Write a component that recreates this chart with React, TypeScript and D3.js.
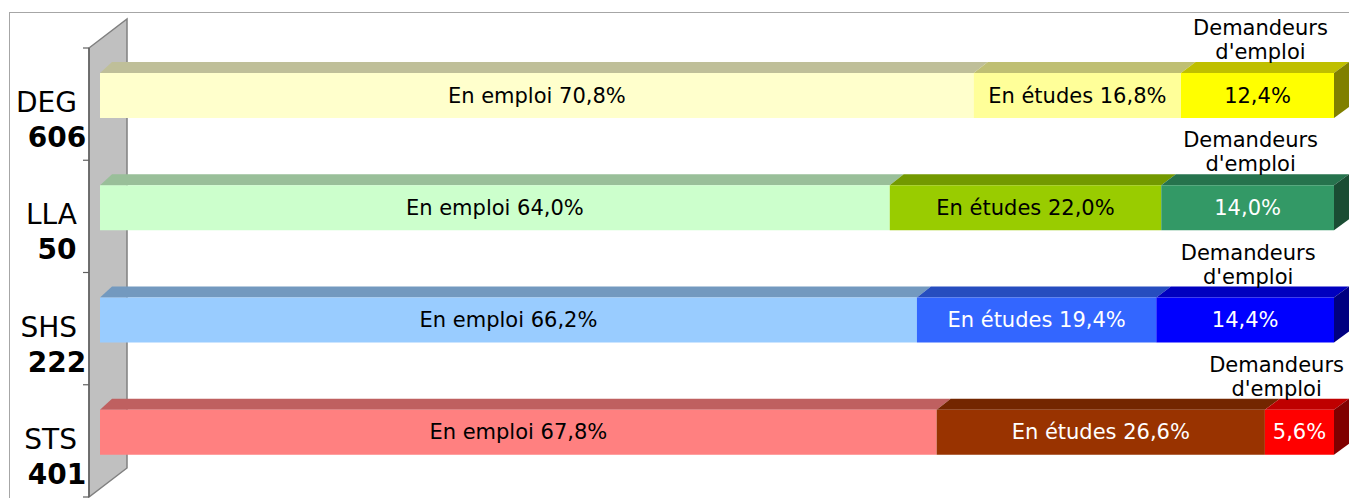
import * as d3 from 'd3';

// Chart data
const categories = ['DEG', 'LLA', 'SHS', 'STS'];
const effectifs = [606, 50, 222, 401];
const enEmploi = [70.8, 64.0, 66.2, 67.8];
const enEtudes = [16.8, 22.0, 19.4, 26.6];
const demandeurs = [12.4, 14.0, 14.4, 5.6];
const seriesNames = ['En emploi', 'En études', 'Demandeurs d\'emploi'];

// Front face colours per category, per series
const fills = [
  ['#ffffcc', '#ffff99', '#ffff00'],
  ['#ccffcc', '#99cc00', '#339966'],
  ['#99ccff', '#3366ff', '#0000ff'],
  ['#ff8080', '#993300', '#ff0000'],
];
const textColors = [
  ['#000', '#000', '#000'],
  ['#000', '#000', '#fff'],
  ['#000', '#fff', '#fff'],
  ['#000', '#fff', '#fff'],
];

const W = 1349;
const H = 498;
const font = 'DejaVu Sans, sans-serif';
const labelSize = 21;
const axisSize = 28;

const shade = (c: string, k: number) => {
  const rgb = d3.rgb(c);
  return d3.rgb(rgb.r * k, rgb.g * k, rgb.b * k).formatHex();
};

const fmt = (v: number) => d3.format('.1f')(v).replace('.', ',') + '%';

let ctx: CanvasRenderingContext2D | null = null;
const textWidth = (t: string, size: number) => {
  if (!ctx) ctx = document.createElement('canvas').getContext('2d');
  if (!ctx) return t.length * size * 0.6;
  ctx.font = `${size}px ${font}`;
  return ctx.measureText(t).width;
};

export default function App() {
  // Scales
  const x = d3.scaleLinear().domain([0, 100]).range([100, 1334]);
  const y = d3.scaleBand().domain(categories).range([48, 497]);

  const barOffset = 25;
  const barHeight = 45;
  const depthY = 11;
  const depthX = (px: number) => 12 + (3 * (px - 100)) / 1234;

  // Axis wall
  const wallFront = 89;
  const wallBack = 127;
  const wall = [
    [wallFront, 48], [wallBack, 19], [wallBack, 468], [wallFront, 497],
  ].map(p => p.join(',')).join(' ');

  const ticks = [...categories.map(c => y(c) ?? 0), 497];

  return (
    <div style={{ position: 'absolute', left: 0, top: 0 }}>
      <svg width={W} height={H} style={{ display: 'block', fontFamily: font }}>
        <rect x={0} y={0} width={W} height={H} fill="#fff" />
        <rect x={9.5} y={12.5} width={W} height={H} fill="none" stroke="#a6a6a6" />

        {/* Category wall */}
        <polygon points={wall} fill="#c0c0c0" stroke="#808080" strokeWidth={1.5} />
        <line x1={wallFront} x2={wallFront} y1={48} y2={497} stroke="#606060" strokeWidth={1.5} />
        {ticks.map((t, i) => (
          <line key={i} x1={wallFront - 6} x2={wallFront} y1={t} y2={t} stroke="#606060" strokeWidth={1.2} />
        ))}

        {categories.map((cat, i) => {
          const band = y(cat) ?? 0;
          const center = band + y.bandwidth() / 2;
          const top = band + barOffset;
          const values = [enEmploi[i], enEtudes[i], demandeurs[i]];
          let acc = 0;
          const segs = values.map((v, j) => {
            const s = { j, v, x0: x(acc), x1: x(acc + v) };
            acc += v;
            return s;
          });
          const last = segs[segs.length - 1];

          // Label for the "Demandeurs d'emploi" segment, kept inside the frame
          const lw = textWidth('Demandeurs', labelSize);
          let lx = (last.x0 + last.x1) / 2 + 3;
          if (lx + lw / 2 > 1344) lx = 1344 - lw / 2;

          return (
            <g key={cat}>
              <text x={77} y={center + 8} textAnchor="end" fontSize={axisSize}>{cat}</text>
              <text x={57} y={center + 43} textAnchor="middle" fontSize={axisSize} fontWeight="bold">
                {effectifs[i]}
              </text>

              {segs.map(s => {
                const d0 = depthX(s.x0);
                const d1 = depthX(s.x1);
                const topFace = [
                  [s.x0, top], [s.x1, top], [s.x1 + d1, top - depthY], [s.x0 + d0, top - depthY],
                ].map(p => p.join(',')).join(' ');
                return (
                  <g key={s.j}>
                    <polygon points={topFace} fill={shade(fills[i][s.j], 0.75)} />
                    <rect x={s.x0} y={top} width={s.x1 - s.x0} height={barHeight} fill={fills[i][s.j]} />
                  </g>
                );
              })}

              <polygon
                points={[
                  [last.x1, top], [last.x1 + depthX(last.x1), top - depthY],
                  [last.x1 + depthX(last.x1), top - depthY + barHeight], [last.x1, top + barHeight],
                ].map(p => p.join(',')).join(' ')}
                fill={shade(fills[i][2], 0.5)}
              />

              {segs.map(s => (
                <text
                  key={'t' + s.j}
                  x={(s.x0 + s.x1) / 2}
                  y={top + barHeight / 2 + 7}
                  textAnchor="middle"
                  fontSize={labelSize}
                  fill={textColors[i][s.j]}
                >
                  {s.j < 2 ? `${seriesNames[s.j]} ${fmt(s.v)}` : fmt(s.v)}
                </text>
              ))}

              <text x={lx} y={top - 38} textAnchor="middle" fontSize={labelSize}>Demandeurs</text>
              <text x={lx} y={top - 14} textAnchor="middle" fontSize={labelSize}>d'emploi</text>
            </g>
          );
        })}
      </svg>
    </div>
  );
}
